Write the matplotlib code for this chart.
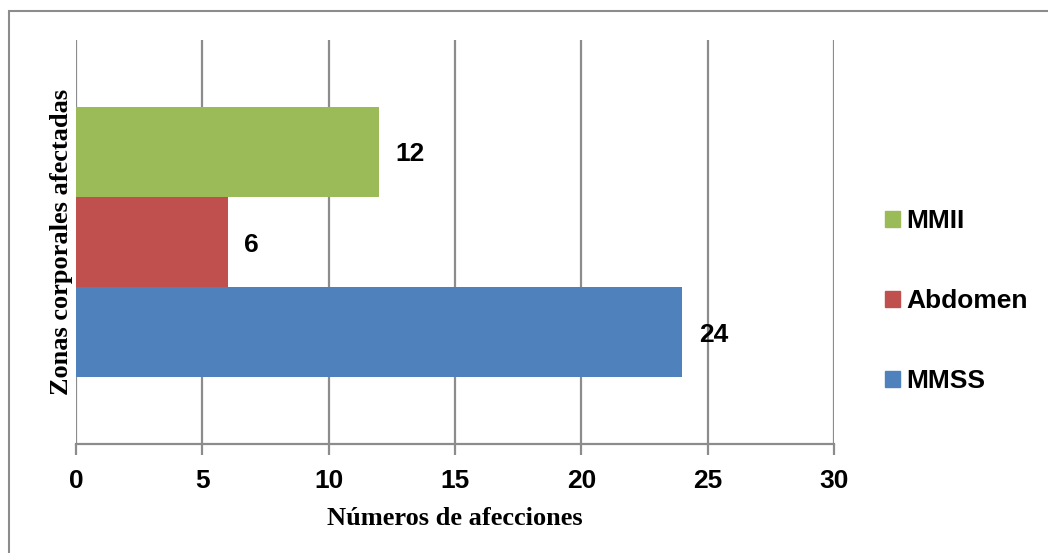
import matplotlib
matplotlib.use("Agg")
import matplotlib.pyplot as plt
from matplotlib.patches import Rectangle, Patch

series = ["MMSS", "Abdomen", "MMII"]
values = [24, 6, 12]
colors = ["#4F81BD", "#C0504D", "#9BBB59"]
xticks = [0, 5, 10, 15, 20, 25, 30]

W, H = 1048, 553
fig = plt.figure(figsize=(W / 100, H / 100), dpi=100)
ax = fig.add_axes([76 / W, 1 - 444 / H, (834 - 76) / W, (444 - 40) / H])

grid_c = "#8C8C8C"
FS = 19
h = 0.2228
positions = [-h, 0, h]
for pos, v, c, name in zip(positions, values, colors, series):
    ax.barh(pos, v, height=h, color=c, label=name, zorder=3)
    ax.text(v + 0.65, pos, str(v), va="center_baseline", ha="left", fontsize=FS,
            fontweight="bold", family="Liberation Sans", zorder=4)

ax.set_xlim(0, 30)
ax.set_ylim(-0.5, 0.5)
ax.set_xticks(xticks)
ax.set_xticklabels([str(t) for t in xticks], fontsize=FS, fontweight="bold",
                   family="Liberation Sans")
ax.set_yticks([])
ax.grid(axis="x", color=grid_c, linewidth=1.6, zorder=0)
for s in ["top", "right", "left"]:
    ax.spines[s].set_visible(False)
ax.spines["bottom"].set_color(grid_c)
ax.spines["bottom"].set_linewidth(1.6)
ax.tick_params(axis="x", length=8, width=1.6, color=grid_c, pad=10)

ax.set_xlabel("Números de afecciones", fontsize=19, fontweight="bold",
              family="Liberation Serif", labelpad=10)
ax.set_ylabel("Zonas corporales afectadas", fontsize=19, fontweight="bold",
              family="Liberation Serif", labelpad=2)

handles = [Patch(color=c, label=n) for c, n in zip(colors[::-1], series[::-1])]
leg = fig.legend(handles=handles, loc="center left",
                 bbox_to_anchor=(885 / W, 1 - 301 / H), frameon=False,
                 prop={"family": "Liberation Sans", "weight": "bold", "size": FS},
                 handlelength=0.55, handleheight=0.55, handletextpad=0.25,
                 labelspacing=2.12, borderpad=0, borderaxespad=0)

fig.patches.append(Rectangle((8.5 / W, -0.1), 1.2, 1 - 10.5 / H + 0.1,
                             transform=fig.transFigure, fill=False,
                             edgecolor="#8C8C8C", linewidth=1.5))

fig.savefig("out.png", dpi=100)
